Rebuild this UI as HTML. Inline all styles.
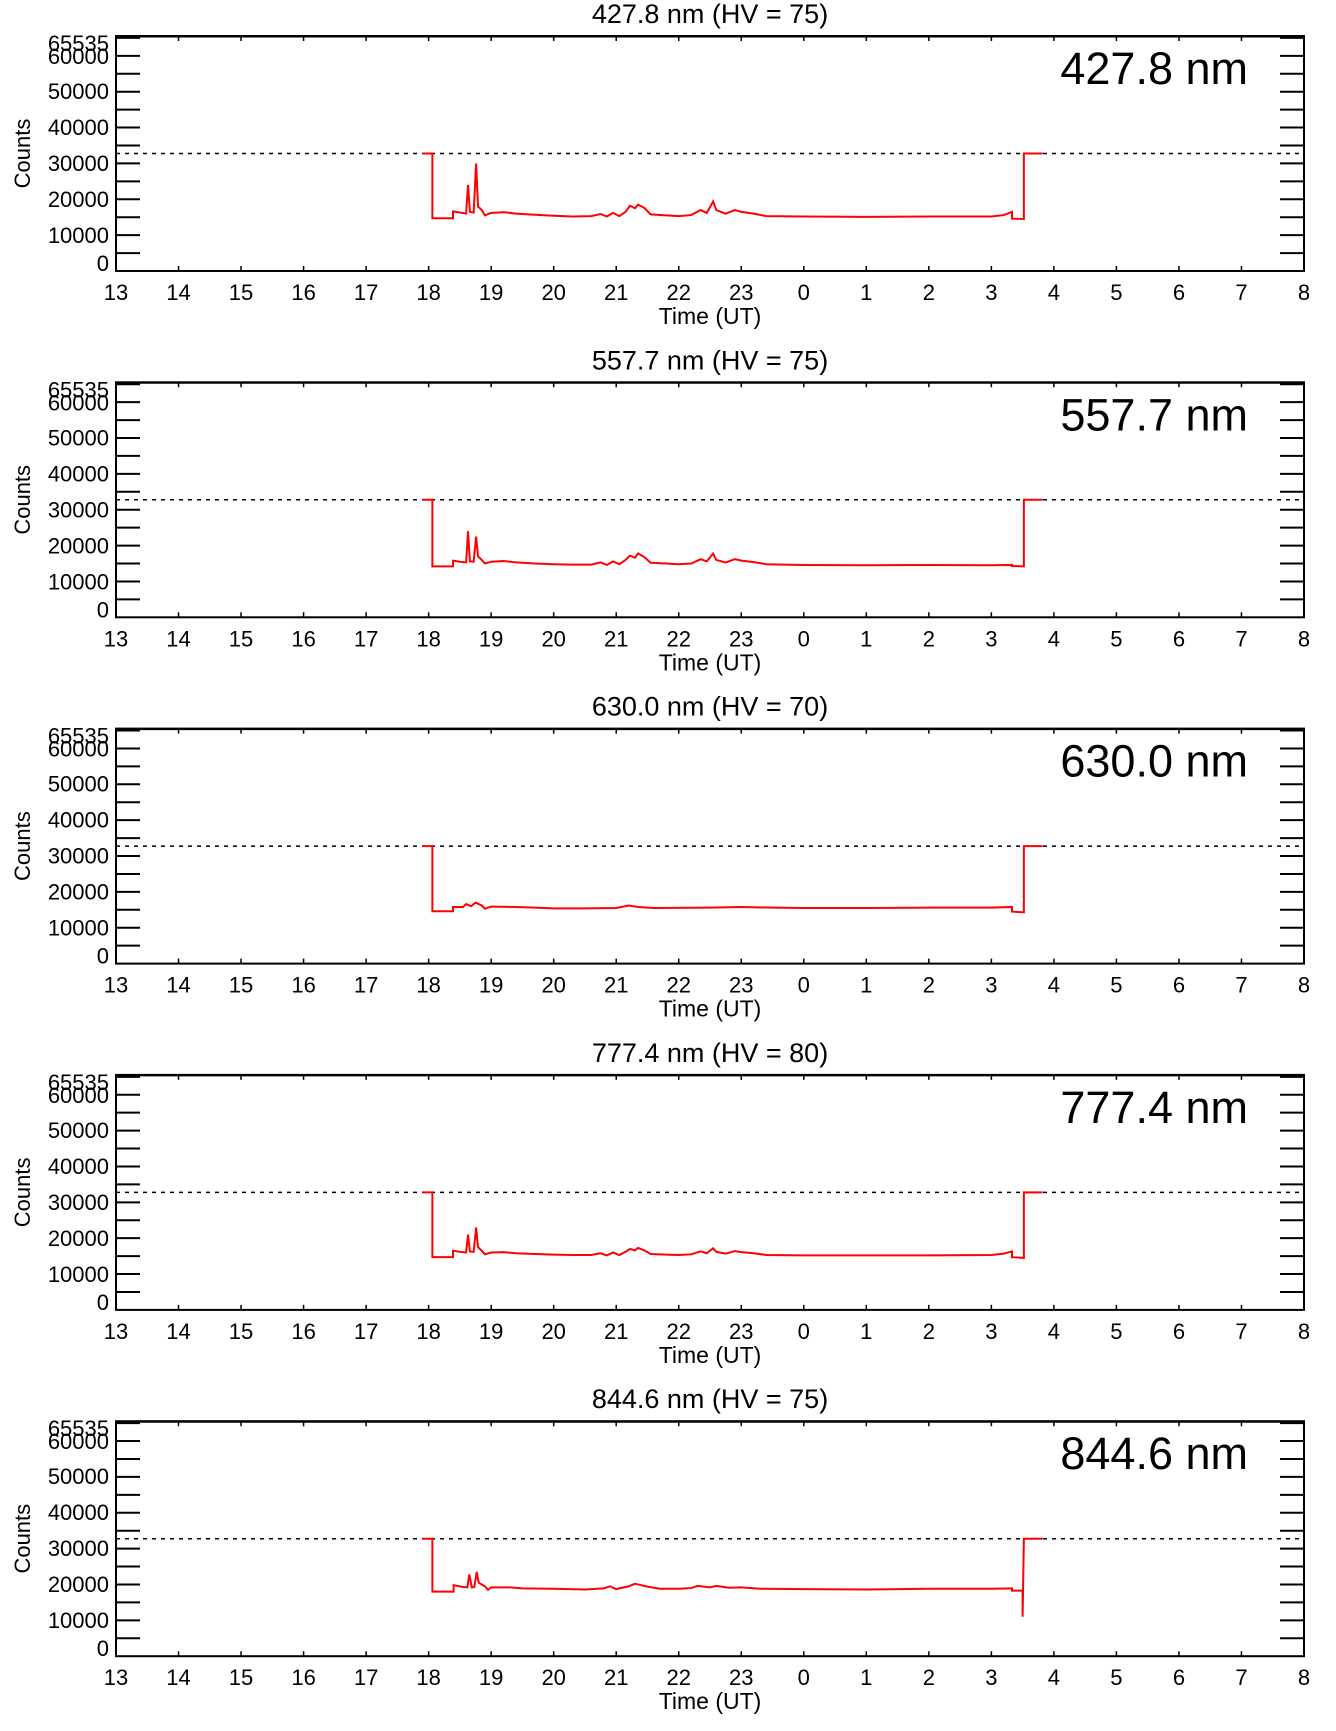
<!DOCTYPE html>
<html><head><meta charset="utf-8"><style>
html,body{margin:0;padding:0;background:#fff;}
svg{display:block;font-family:"Liberation Sans",sans-serif;}
</style></head><body>
<svg width="1336" height="1731" viewBox="0 0 1336 1731" xmlns="http://www.w3.org/2000/svg">
<defs>
<g id="axes">
 <rect x="0" y="0" width="1188" height="235" fill="none" stroke="#000" stroke-width="2"/>
 <line x1="0" y1="0.5" x2="1188" y2="0.5" stroke="#000" stroke-width="2"/>
 <g stroke="#000" stroke-width="2">
  <path d="M0 217.07h24M0 199.14h24M0 181.21h24M0 163.28h24M0 145.35h24M0 127.42h24M0 109.49h24M0 91.56h24M0 73.63h24M0 55.70h24M0 37.77h24M0 19.84h24M0 1.92h24"/>
  <path d="M1188 217.07h-24M1188 199.14h-24M1188 181.21h-24M1188 163.28h-24M1188 145.35h-24M1188 127.42h-24M1188 109.49h-24M1188 91.56h-24M1188 73.63h-24M1188 55.70h-24M1188 37.77h-24M1188 19.84h-24M1188 1.92h-24"/>
 </g>
 <g stroke="#000" stroke-width="1.5">
  <path d="M62.53 0v5M125.05 0v5M187.58 0v5M250.1 0v5M312.63 0v5M375.16 0v5M437.68 0v5M500.21 0v5M562.74 0v5M625.26 0v5M687.79 0v5M750.31 0v5M812.84 0v5M875.37 0v5M937.89 0v5M1000.42 0v5M1062.95 0v5M1125.47 0v5"/>
  <path d="M62.53 235v-5M125.05 235v-5M187.58 235v-5M250.1 235v-5M312.63 235v-5M375.16 235v-5M437.68 235v-5M500.21 235v-5M562.74 235v-5M625.26 235v-5M687.79 235v-5M750.31 235v-5M812.84 235v-5M875.37 235v-5M937.89 235v-5M1000.42 235v-5M1062.95 235v-5M1125.47 235v-5"/>
 </g>
 <line x1="0" y1="117.5" x2="1188" y2="117.5" stroke="#000" stroke-width="1.5" stroke-dasharray="4 5"/>
 <g font-size="22" text-anchor="end" fill="#000">
  <text x="-7" y="235">0</text>
  <text x="-7" y="207">10000</text>
  <text x="-7" y="171">20000</text>
  <text x="-7" y="135">30000</text>
  <text x="-7" y="99">40000</text>
  <text x="-7" y="63">50000</text>
  <text x="-7" y="28">60000</text>
  <text x="-7" y="15">65535</text>
 </g>
 <g font-size="22" text-anchor="middle" fill="#000">
  <text x="0" y="264">13</text><text x="62.53" y="264">14</text><text x="125.05" y="264">15</text><text x="187.58" y="264">16</text><text x="250.1" y="264">17</text><text x="312.63" y="264">18</text><text x="375.16" y="264">19</text><text x="437.68" y="264">20</text><text x="500.21" y="264">21</text><text x="562.74" y="264">22</text><text x="625.26" y="264">23</text><text x="687.79" y="264">0</text><text x="750.31" y="264">1</text><text x="812.84" y="264">2</text><text x="875.37" y="264">3</text><text x="937.89" y="264">4</text><text x="1000.42" y="264">5</text><text x="1062.95" y="264">6</text><text x="1125.47" y="264">7</text><text x="1188" y="264">8</text>
 </g>
 <text x="594" y="288" font-size="23" text-anchor="middle">Time (UT)</text>
 <text transform="translate(-86,117.5) rotate(-90)" font-size="22" text-anchor="middle">Counts</text>
</g>
</defs>

<!-- Panel 1 -->
<g transform="translate(116,36)">
 <use href="#axes"/>
 <text x="594" y="-13" font-size="27" text-anchor="middle">427.8 nm (HV = 75)</text>
 <text x="1132" y="48" font-size="45" text-anchor="end">427.8 nm</text>
 <g transform="translate(-812.84,235) scale(62.526,-0.0035859)">
 <polyline fill="none" stroke="#f00" stroke-width="2" vector-effect="non-scaling-stroke" points="17.9,32767 18.06,32767 18.06,14700 18.39,14700 18.39,16600 18.5,16300 18.6,16000 18.63,24000 18.66,16500 18.72,16300 18.76,30000 18.79,18000 18.85,17000 18.9,15500 19.0,16200 19.2,16400 19.4,16000 19.7,15700 20.0,15400 20.3,15200 20.6,15300 20.75,15900 20.85,15200 20.95,16200 21.05,15300 21.15,16500 21.22,18200 21.3,17500 21.35,18500 21.45,17600 21.55,15800 21.8,15500 22.0,15300 22.2,15600 22.35,17000 22.45,16200 22.55,19400 22.6,17000 22.75,16000 22.9,17000 23.0,16500 23.2,16000 23.4,15300 24,15200 25,15100 26,15200 27,15200 27.2,15600 27.33,16500 27.33,14600 27.52,14500 27.52,32767 27.82,32767"/>
 </g>
</g>

<!-- Panel 2 -->
<g transform="translate(116,382.3)">
 <use href="#axes"/>
 <text x="594" y="-13" font-size="27" text-anchor="middle">557.7 nm (HV = 75)</text>
 <text x="1132" y="48" font-size="45" text-anchor="end">557.7 nm</text>
 <g transform="translate(-812.84,235) scale(62.526,-0.0035859)">
 <polyline fill="none" stroke="#f00" stroke-width="2" vector-effect="non-scaling-stroke" points="17.9,32767 18.06,32767 18.06,14200 18.39,14200 18.39,15800 18.5,15500 18.6,15300 18.63,24000 18.66,15600 18.72,15500 18.76,22500 18.79,17000 18.85,16000 18.9,15000 19.0,15500 19.2,15700 19.4,15300 19.7,15000 20.0,14800 20.3,14700 20.6,14700 20.75,15300 20.85,14600 20.95,15600 21.05,14800 21.15,16000 21.22,17200 21.3,16600 21.35,17800 21.45,16800 21.55,15200 21.8,15000 22.0,14800 22.2,15000 22.35,16200 22.45,15600 22.55,17800 22.6,16000 22.75,15300 22.9,16200 23.0,15800 23.2,15400 23.4,14800 24,14600 25,14500 26,14600 27,14500 27.33,14600 27.33,14300 27.52,14200 27.52,32767 27.82,32767"/>
 </g>
</g>

<!-- Panel 3 -->
<g transform="translate(116,728.6)">
 <use href="#axes"/>
 <text x="594" y="-13" font-size="27" text-anchor="middle">630.0 nm (HV = 70)</text>
 <text x="1132" y="48" font-size="45" text-anchor="end">630.0 nm</text>
 <g transform="translate(-812.84,235) scale(62.526,-0.0035859)">
 <polyline fill="none" stroke="#f00" stroke-width="2" vector-effect="non-scaling-stroke" points="17.9,32767 18.06,32767 18.06,14600 18.39,14600 18.39,15800 18.55,15800 18.6,16600 18.68,16000 18.75,17000 18.85,16200 18.9,15300 19.0,15900 19.4,15800 19.7,15600 20.0,15400 20.5,15400 21.0,15500 21.2,16200 21.35,15800 21.6,15500 22.5,15600 23.0,15800 23.5,15600 24,15500 25,15500 26,15600 27,15600 27.33,15800 27.33,14500 27.52,14300 27.52,32767 27.82,32767"/>
 </g>
</g>

<!-- Panel 4 -->
<g transform="translate(116,1074.9)">
 <use href="#axes"/>
 <text x="594" y="-13" font-size="27" text-anchor="middle">777.4 nm (HV = 80)</text>
 <text x="1132" y="48" font-size="45" text-anchor="end">777.4 nm</text>
 <g transform="translate(-812.84,235) scale(62.526,-0.0035859)">
 <polyline fill="none" stroke="#f00" stroke-width="2" vector-effect="non-scaling-stroke" points="17.9,32767 18.06,32767 18.06,14700 18.39,14700 18.39,16500 18.5,16200 18.6,16000 18.63,21000 18.66,16300 18.72,16200 18.76,23000 18.79,17500 18.85,16500 18.9,15500 19.0,16000 19.2,16100 19.4,15800 19.7,15600 20.0,15400 20.3,15300 20.6,15300 20.75,15800 20.85,15200 20.95,16000 21.05,15300 21.15,16200 21.22,17000 21.3,16600 21.35,17300 21.45,16600 21.55,15600 21.8,15400 22.0,15300 22.2,15500 22.35,16300 22.45,15800 22.55,17200 22.6,16200 22.75,15700 22.9,16400 23.0,16100 23.2,15800 23.4,15300 24,15200 25,15200 26,15200 27,15300 27.2,15700 27.33,16300 27.33,14700 27.52,14500 27.52,32767 27.82,32767"/>
 </g>
</g>

<!-- Panel 5 -->
<g transform="translate(116,1421.2)">
 <use href="#axes"/>
 <text x="594" y="-13" font-size="27" text-anchor="middle">844.6 nm (HV = 75)</text>
 <text x="1132" y="48" font-size="45" text-anchor="end">844.6 nm</text>
 <g transform="translate(-812.84,235) scale(62.526,-0.0035859)">
 <polyline fill="none" stroke="#f00" stroke-width="2" vector-effect="non-scaling-stroke" points="17.9,32767 18.06,32767 18.06,18000 18.4,18000 18.4,19800 18.55,19300 18.62,19200 18.65,22800 18.69,19200 18.73,19300 18.77,23500 18.8,20500 18.9,19500 18.95,18500 19.0,19200 19.3,19200 19.5,18900 20.0,18800 20.5,18600 20.8,18900 20.9,19500 21.0,18700 21.2,19500 21.3,20200 21.4,19800 21.5,19400 21.7,18800 22.0,18800 22.2,19000 22.3,19600 22.5,19200 22.6,19600 22.8,19100 23.0,19200 23.3,18800 24,18700 25,18600 26,18800 27,18800 27.33,18900 27.33,18300 27.5,18300 27.5,11000 27.52,32767 27.82,32767"/>
 </g>
</g>
</svg>
</body></html>
